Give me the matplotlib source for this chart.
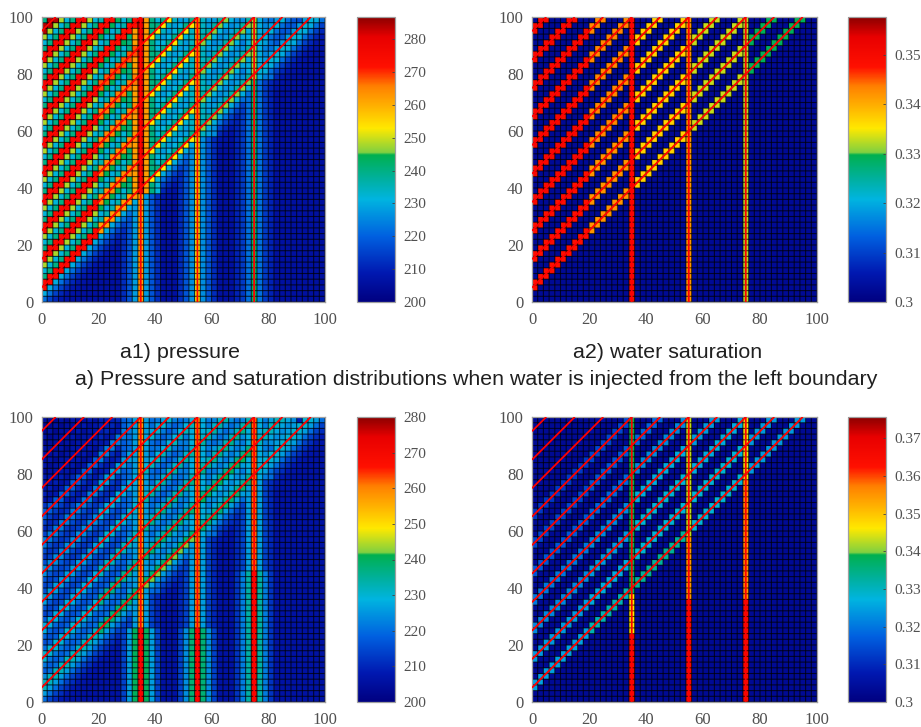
import numpy as np
import matplotlib
matplotlib.use("Agg")
import matplotlib.pyplot as plt
from matplotlib.colors import LinearSegmentedColormap

W, H = 921, 727

# fractures
diag_starts = [5, 15, 25, 35, 45, 55, 65, 75, 85, 95]
vert_x = [35, 55, 75]
vert_cols = [17, 27, 37]
zone_edges = [0, 10, 17, 27, 37, 50]

# colour ramp
ramp = [(0.0, "#000080"), (0.1, "#0018b0"), (0.23, "#0060e0"), (0.36, "#00b4e0"),
        (0.43, "#00b0a0"), (0.515, "#00b050"), (0.525, "#80d040"), (0.61, "#ffe800"),
        (0.757, "#ff8000"), (0.825, "#ff1000"), (0.93, "#e80000"), (1.0, "#8b0000")]

# a1 pressure: per line (c=5 first), per zone of columns
a1_diag = [[274, 262, 253, 246, 232], [275, 264, 253, 246, 232], [275, 264, 253, 246, 232],
           [275, 265, 253, 246, 232], [276, 266, 253, 246, 232], [276, 268, 253, 246, 232],
           [277, 272, 253, 246, 232], [277, 274, 253, 246, 232], [278, 276, 253, 246, 232],
           [284, 276, 253, 246, 232]]
a1_up_drop = [0, 0, 13, 9, 4]
a1_bg = [[232, 232, 230, 228, 228, 226, 226, 224, 218, 216]] * 10
a1_near_low = [16, 14, 6, 5, 4]
a1_near_up = [8, 6, 3, 2, 1]
a1_below = [230, 222, 215, 211, 208, 207]
a1_floor = 206
a1_vert_top = [[282, 262, 240, 232], [262, 234, 228, 226], [247, 230, 224, 222]]
a1_vert_mid = [[262, 228, 218, 212], [252, 226, 218, 212], [243, 222, 214, 210]]
a1_vert_low = [[262, 228, 218, 212], [252, 226, 218, 212], [243, 222, 214, 210]]
a1_low_y = [0, 0, 0]

# a2 water saturation
a2_diag = [[0.348, 0.342, 0.337, 0.333, 0.329]] * 3 + [[0.350, 0.343, 0.337, 0.333, 0.329]] * 7
a2_up_drop = [0, 0, 0, 0, 0]
a2_bg = [[0.3025] * 10] * 10
a2_near_low = [0, 0, 0, 0, 0]
a2_near_up = [0, 0, 0, 0, 0]
a2_below = [0.3025]
a2_floor = 0.3025
a2_vert_top = [[0.350], [0.342], [0.332]]
a2_vert_mid = [[0.350], [0.342], [0.332]]
a2_vert_low = [[0.350], [0.342], [0.332]]
a2_low_y = [0, 0, 0]

# b1 pressure
b1_diag = [[232, 238, 242, 238, 230], [230, 236, 238, 240, 232], [228, 232, 236, 236, 228],
           [226, 230, 234, 234, 226], [224, 228, 232, 232, 226], [222, 226, 230, 230, 224],
           [218, 222, 228, 228, 224], [207, 209, 220, 228, 224], [205, 205, 220, 228, 224],
           [203, 203, 220, 228, 224]]
b1_up_drop = [0, 0, 3, 3, 0]
b1_bg = [[203, 205, 207, 214, 218, 218, 220, 220, 224, 207],
         [204, 205, 208, 212, 218, 218, 222, 222, 212, 207],
         [206, 208, 210, 214, 218, 220, 224, 222, 208, 207],
         [210, 212, 214, 218, 220, 222, 224, 212, 207, 207],
         [212, 212, 214, 220, 222, 224, 216, 208, 207, 207],
         [214, 214, 216, 222, 224, 214, 207, 207, 207, 207],
         [214, 216, 218, 224, 212, 208, 208, 207, 207, 207],
         [216, 218, 220, 214, 212, 208, 208, 207, 207, 207],
         [218, 218, 214, 210, 212, 208, 208, 207, 207, 207],
         [222, 207, 207, 207, 207, 207, 207, 207, 207, 207]]
b1_near_low = [3, 3, 4, 4, 3]
b1_near_up = [2, 2, 3, 3, 2]
b1_below = [226, 220, 214, 211, 208, 207]
b1_floor = 206
b1_vert_top = [[258, 226, 220, 218], [260, 228, 222, 220], [262, 228, 222, 220]]
b1_vert_mid = [[258, 226, 214, 210], [260, 226, 214, 210], [262, 226, 214, 210]]
b1_vert_low = [[270, 240, 226, 214], [270, 238, 224, 214], [270, 234, 222, 212]]
b1_low_y = [25, 25, 45]

# b2 water saturation
b2_diag = [[0.325, 0.331, 0.333, 0.328, 0.324], [0.324, 0.326, 0.328, 0.328, 0.324],
           [0.322, 0.324, 0.328, 0.326, 0.322], [0.320, 0.322, 0.326, 0.324, 0.322],
           [0.316, 0.318, 0.322, 0.322, 0.320], [0.314, 0.316, 0.318, 0.320, 0.320],
           [0.312, 0.314, 0.316, 0.318, 0.320], [0.304, 0.305, 0.310, 0.318, 0.320],
           [0.3032, 0.3032, 0.310, 0.318, 0.320], [0.3032, 0.3032, 0.310, 0.318, 0.320]]
b2_up_drop = [0, 0, 0, 0, 0]
b2_bg = [[0.3032] * 10] * 10
b2_near_low = [0, 0, 0, 0, 0]
b2_near_up = [0, 0, 0, 0, 0]
b2_below = [0.3032]
b2_floor = 0.3032
b2_vert_top = [[0.338], [0.343], [0.345]]
b2_vert_mid = [[0.346], [0.355], [0.356]]
b2_vert_low = [[0.366], [0.366], [0.366]]
b2_low_y = [23, 35, 35]

ticks_xy = [0, 20, 40, 60, 80, 100]
a1_ticks = [200, 210, 220, 230, 240, 250, 260, 270, 280]
a1_labels = ["200", "210", "220", "230", "240", "250", "260", "270", "280"]
a2_ticks = [0.30, 0.31, 0.32, 0.33, 0.34, 0.35]
a2_labels = ["0.3", "0.31", "0.32", "0.33", "0.34", "0.35"]
b2_ticks = [0.30, 0.31, 0.32, 0.33, 0.34, 0.35, 0.36, 0.37]
b2_labels = ["0.3", "0.31", "0.32", "0.33", "0.34", "0.35", "0.36", "0.37"]


def build_grid(diag, up_drop, bg, near_low, near_up, below, floor, top, mid, low, low_y):
    coarse = np.array(bg, dtype=float)
    grid = np.zeros((50, 50))
    for j in range(50):
        for i in range(50):
            d = j - i
            zone = np.searchsorted(zone_edges, i, side="right") - 1
            if d < 2:
                m = 1 - d
                grid[j, i] = below[m] if m < len(below) else floor
                continue
            line = (d - 2) // 5
            off = (d - 2) % 5
            base = coarse[9 - j // 5, i // 5]
            if off == 0:
                grid[j, i] = diag[line][zone]
            elif off == 1:
                grid[j, i] = diag[line][zone] - up_drop[zone]
            elif off == 2:
                grid[j, i] = base + near_up[zone]
            elif off == 4:
                grid[j, i] = base + near_low[zone]
            else:
                grid[j, i] = base
    for k, col in enumerate(vert_cols):
        for j in range(50):
            if j - col >= 2:
                row = top[k]
            elif 2 * j < low_y[k]:
                row = low[k]
            else:
                row = mid[k]
            grid[j, col] = row[0]
            for s in range(1, len(row)):
                for c in (col - s, col + s):
                    grid[j, c] = max(grid[j, c], row[s])
    return grid


def px_rect(x0, y0, x1, y1):
    return [x0 / W, 1 - y1 / H, (x1 - x0) / W, (y1 - y0) / H]


def draw_panel(fig, box, cbox, grid, vmin, vmax, ticks, labels):
    ax = fig.add_axes(px_rect(*box))
    edges = np.arange(0, 101, 2)
    mesh = ax.pcolormesh(edges, edges, grid, cmap=cmap, vmin=vmin, vmax=vmax)
    # grid lines not snapped, otherwise they alias into uneven bands
    vl = ax.vlines(edges, 0, 100, color="black", lw=0.8, alpha=0.7, zorder=2)
    hl = ax.hlines(edges, 0, 100, color="black", lw=0.8, alpha=0.7, zorder=2)
    vl.set_snap(False)
    hl.set_snap(False)
    for c in diag_starts:
        ax.plot([0, 100 - c], [c, 100], color="#ff0000", lw=1.3, solid_capstyle="butt", zorder=3)
    for x in vert_x:
        line = ax.plot([x, x], [0, 100], color="#ff0000", lw=1.3, solid_capstyle="butt", zorder=3)[0]
        line.set_snap(False)
    ax.set_xlim(0, 100)
    ax.set_ylim(0, 100)
    ax.set_xticks(ticks_xy)
    ax.set_yticks(ticks_xy)
    ax.tick_params(length=0, labelsize=12, labelcolor="#505050")
    ax.tick_params(axis="x", pad=7)
    ax.tick_params(axis="y", pad=6)
    for s in ax.spines.values():
        s.set_color("#a0a0a0")
        s.set_linewidth(0.9)

    cax = fig.add_axes(px_rect(*cbox))
    cb = fig.colorbar(mesh, cax=cax)
    cb.set_ticks(ticks)
    cb.set_ticklabels(labels)
    cb.ax.tick_params(direction="in", length=2.5, width=0.6, color="#404040", pad=6,
                      labelsize=11, labelcolor="#505050")
    cb.outline.set_edgecolor("#a0a0a0")
    cb.outline.set_linewidth(0.9)


plt.rcParams["font.family"] = ["Liberation Serif", "DejaVu Serif"]
cmap = LinearSegmentedColormap.from_list("fracture_jet", ramp, N=512)

fig = plt.figure(figsize=(W / 100, H / 100), dpi=100)

a1 = build_grid(a1_diag, a1_up_drop, a1_bg, a1_near_low, a1_near_up, a1_below, a1_floor,
                a1_vert_top, a1_vert_mid, a1_vert_low, a1_low_y)
a2 = build_grid(a2_diag, a2_up_drop, a2_bg, a2_near_low, a2_near_up, a2_below, a2_floor,
                a2_vert_top, a2_vert_mid, a2_vert_low, a2_low_y)
b1 = build_grid(b1_diag, b1_up_drop, b1_bg, b1_near_low, b1_near_up, b1_below, b1_floor,
                b1_vert_top, b1_vert_mid, b1_vert_low, b1_low_y)
b2 = build_grid(b2_diag, b2_up_drop, b2_bg, b2_near_low, b2_near_up, b2_below, b2_floor,
                b2_vert_top, b2_vert_mid, b2_vert_low, b2_low_y)

draw_panel(fig, (41.5, 17, 325, 302), (357, 17, 395, 302), a1, 200, 286.7, a1_ticks, a1_labels)
draw_panel(fig, (532, 17, 817, 302), (848, 17, 886, 302), a2, 0.30, 0.3577, a2_ticks, a2_labels)
draw_panel(fig, (41.5, 417, 325, 702), (357, 417, 395, 702), b1, 200, 280, a1_ticks, a1_labels)
draw_panel(fig, (532, 417, 817, 702), (848, 417, 886, 702), b2, 0.30, 0.3756, b2_ticks, b2_labels)

fig.text(180 / W, 1 - 352 / H, "a1) pressure", family="Liberation Sans", fontsize=15.4,
         ha="center", va="center", color="#202020")
fig.text(668 / W, 1 - 352 / H, "a2) water saturation", family="Liberation Sans", fontsize=15.4,
         ha="center", va="center", color="#202020")
fig.text(476 / W, 1 - 379 / H,
         "a) Pressure and saturation distributions when water is injected from the left boundary",
         family="Liberation Sans", fontsize=15.4, ha="center", va="center", color="#202020")

fig.savefig("out.png", dpi=100)
